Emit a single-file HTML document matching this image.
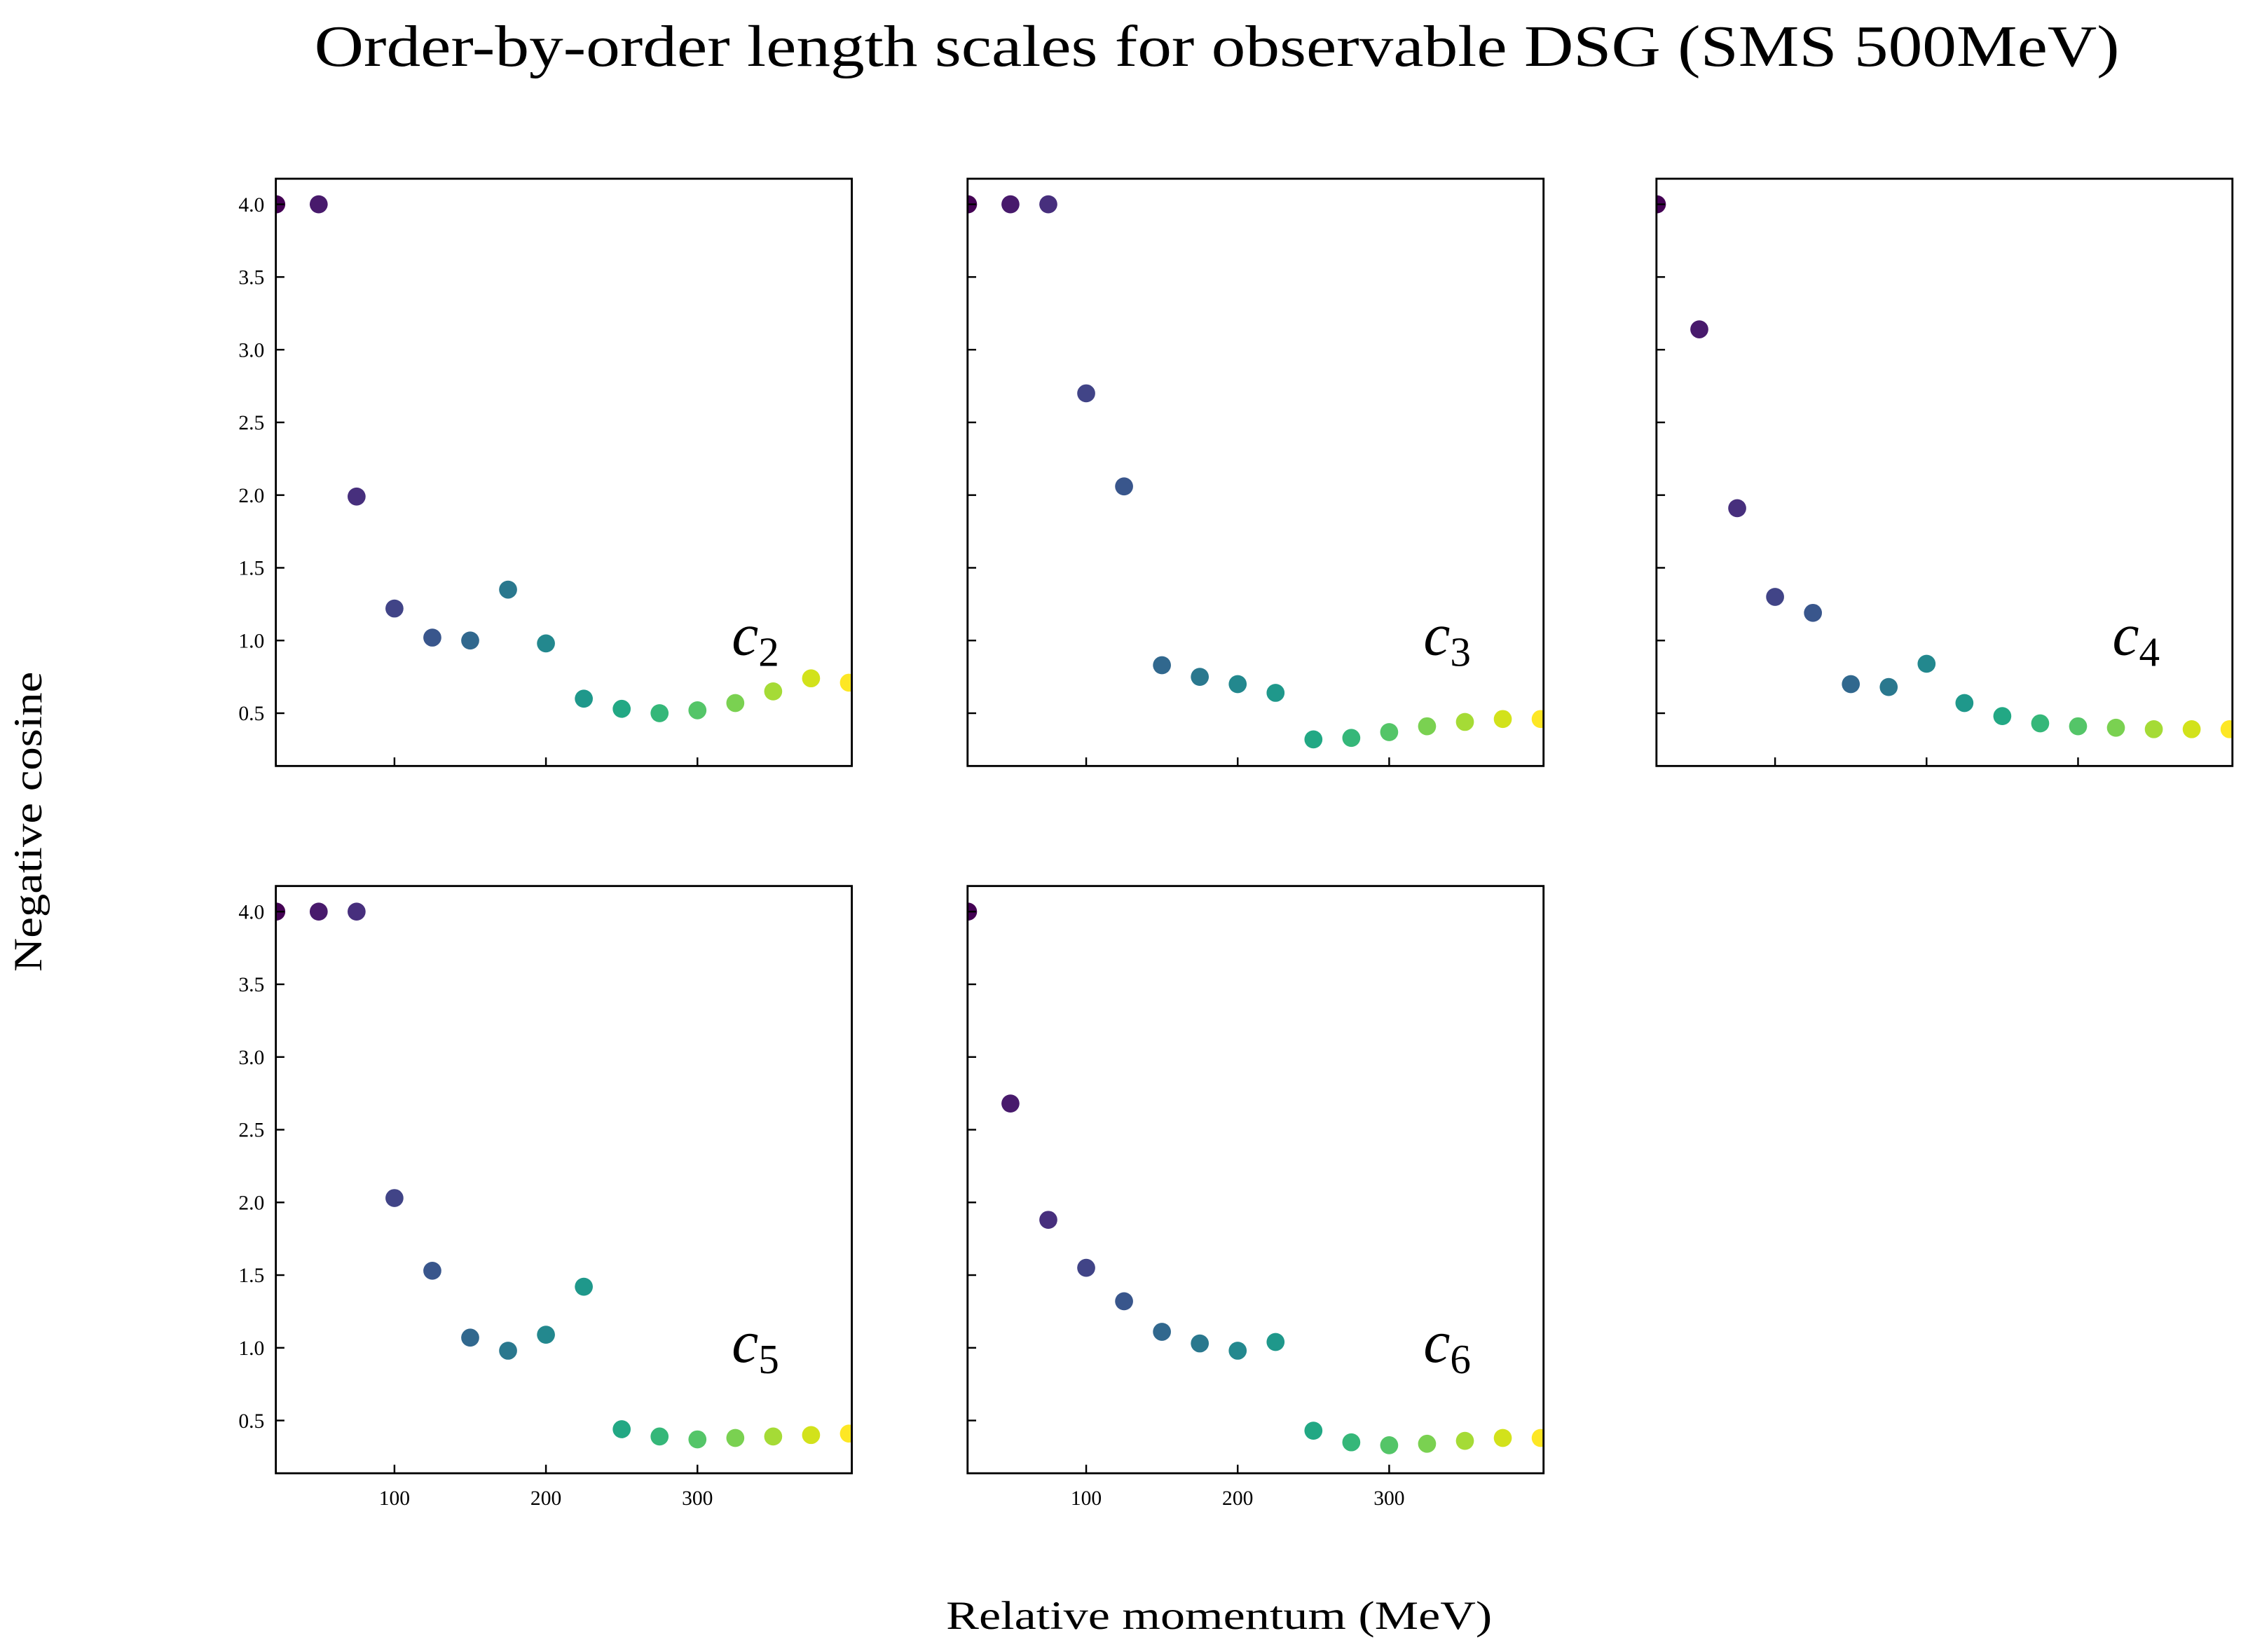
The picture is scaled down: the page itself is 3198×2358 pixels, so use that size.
<!DOCTYPE html>
<html><head><meta charset="utf-8">
<style>
html,body{margin:0;padding:0;background:#fff;}
svg{display:block;}
text{font-family:"Liberation Serif","DejaVu Serif",serif;fill:#000;}
</style></head>
<body>
<svg id="chart" xmlns="http://www.w3.org/2000/svg" width="3198" height="2358" viewBox="0 0 1568 1156">
<rect width="1568" height="1156" fill="#fff"/>
<text x="220" y="46" font-size="41" textLength="1263" lengthAdjust="spacingAndGlyphs">Order-by-order length scales for observable DSG (SMS 500MeV)</text>
<text x="-680" y="29" font-size="28" textLength="210" lengthAdjust="spacingAndGlyphs" transform="rotate(-90)">Negative cosine</text>
<text x="662" y="1140" font-size="28" textLength="382" lengthAdjust="spacingAndGlyphs">Relative momentum (MeV)</text>
</svg>
<script>
const momenta = [22,50,75,100,125,150,175,200,225,250,275,300,325,350,375,400];
const seriesC2 = [4.0,4.0,1.99,1.22,1.02,1.0,1.35,0.98,0.60,0.53,0.50,0.52,0.57,0.65,0.74,0.71];
const seriesC3 = [4.0,4.0,4.0,2.70,2.06,0.83,0.75,0.70,0.64,0.32,0.33,0.37,0.41,0.44,0.46,0.46];
const seriesC4 = [4.0,3.14,1.91,1.30,1.19,0.70,0.68,0.84,0.57,0.48,0.43,0.41,0.40,0.39,0.39,0.39];
const seriesC5 = [4.0,4.0,4.0,2.03,1.53,1.07,0.98,1.09,1.42,0.44,0.39,0.37,0.38,0.39,0.40,0.41];
const seriesC6 = [4.0,2.68,1.88,1.55,1.32,1.11,1.03,0.98,1.04,0.43,0.35,0.33,0.34,0.36,0.38,0.38];
const yTicks = [0.5,1.0,1.5,2.0,2.5,3.0,3.5,4.0];
const yTickLabels = ["0.5","1.0","1.5","2.0","2.5","3.0","3.5","4.0"];
const xTicks = [100,200,300];
const xTickLabels = ["100","200","300"];
const orderNames = ["2","3","4","5","6"];

const NS="http://www.w3.org/2000/svg";
const svg=document.getElementById('chart');
const viridis=["#440154","#481a6c","#472f7d","#414487","#39568c","#31688e","#2a788e","#23888e","#1f988b","#22a884","#35b779","#54c568","#7ad151","#a5db36","#d2e21b","#fde725"];
function mk(tag,attrs,parent){const e=document.createElementNS(NS,tag);for(const k in attrs)e.setAttribute(k,attrs[k]);(parent||svg).appendChild(e);return e;}
const xMin=21.7,xMax=401.9,yMin=0.137,yMax=4.176;
const panels=[
 {s:seriesC2,x0:193,y0:125,showY:true,showX:false},
 {s:seriesC3,x0:677,y0:125,showY:false,showX:false},
 {s:seriesC4,x0:1159,y0:125,showY:false,showX:false},
 {s:seriesC5,x0:193,y0:620,showY:true,showX:true},
 {s:seriesC6,x0:677,y0:620,showY:false,showX:true}
];
const W=403,H=411;
panels.forEach((p,pi)=>{
  const g=mk('g',{});
  
  
  const xs=v=>p.x0+(v-xMin)/(xMax-xMin)*W;
  const ys=v=>p.y0+H-(v-yMin)/(yMax-yMin)*H;
  const cp=mk('clipPath',{id:'clip'+pi},g);
  mk('rect',{x:p.x0,y:p.y0,width:W,height:H},cp);
  const dots=mk('g',{'clip-path':'url(#clip'+pi+')'},g);
  p.s.forEach((v,i)=>{
    const c=mk('circle',{cx:xs(momenta[i]),cy:ys(v),r:6.3,fill:viridis[i]},dots);
    
    
  });
  const fr=mk('rect',{x:p.x0,y:p.y0,width:W,height:H,fill:'none',stroke:'#000','stroke-width':1.4},g);
  
  
  yTicks.forEach((t,i)=>{
    const y=ys(t);
    mk('line',{x1:p.x0,x2:p.x0+6,y1:y,y2:y,stroke:'#000','stroke-width':1.2},g);
    if(p.showY){
      const tx=mk('text',{x:p.x0-8,y:y+5,'font-size':14.5,'text-anchor':'end'},g);
      tx.textContent=yTickLabels[i];
      
      
    }
  });
  xTicks.forEach((t,i)=>{
    const x=xs(t);
    mk('line',{x1:x,x2:x,y1:p.y0+H,y2:p.y0+H-6,stroke:'#000','stroke-width':1.2},g);
    if(p.showX){
      const tx=mk('text',{x:x,y:p.y0+H+22,'font-size':14.5,'text-anchor':'middle'},g);
      tx.textContent=xTickLabels[i];
      
      
    }
  });
  const lb=mk('text',{x:p.x0+319,y:p.y0+333,'font-size':42,'font-style':'italic'},g);
  
  
  lb.textContent='c';
  const sub=mk('tspan',{'font-size':29,'font-style':'normal',dy:8},lb);
  sub.textContent=orderNames[pi];
});
</script>
</body></html>
